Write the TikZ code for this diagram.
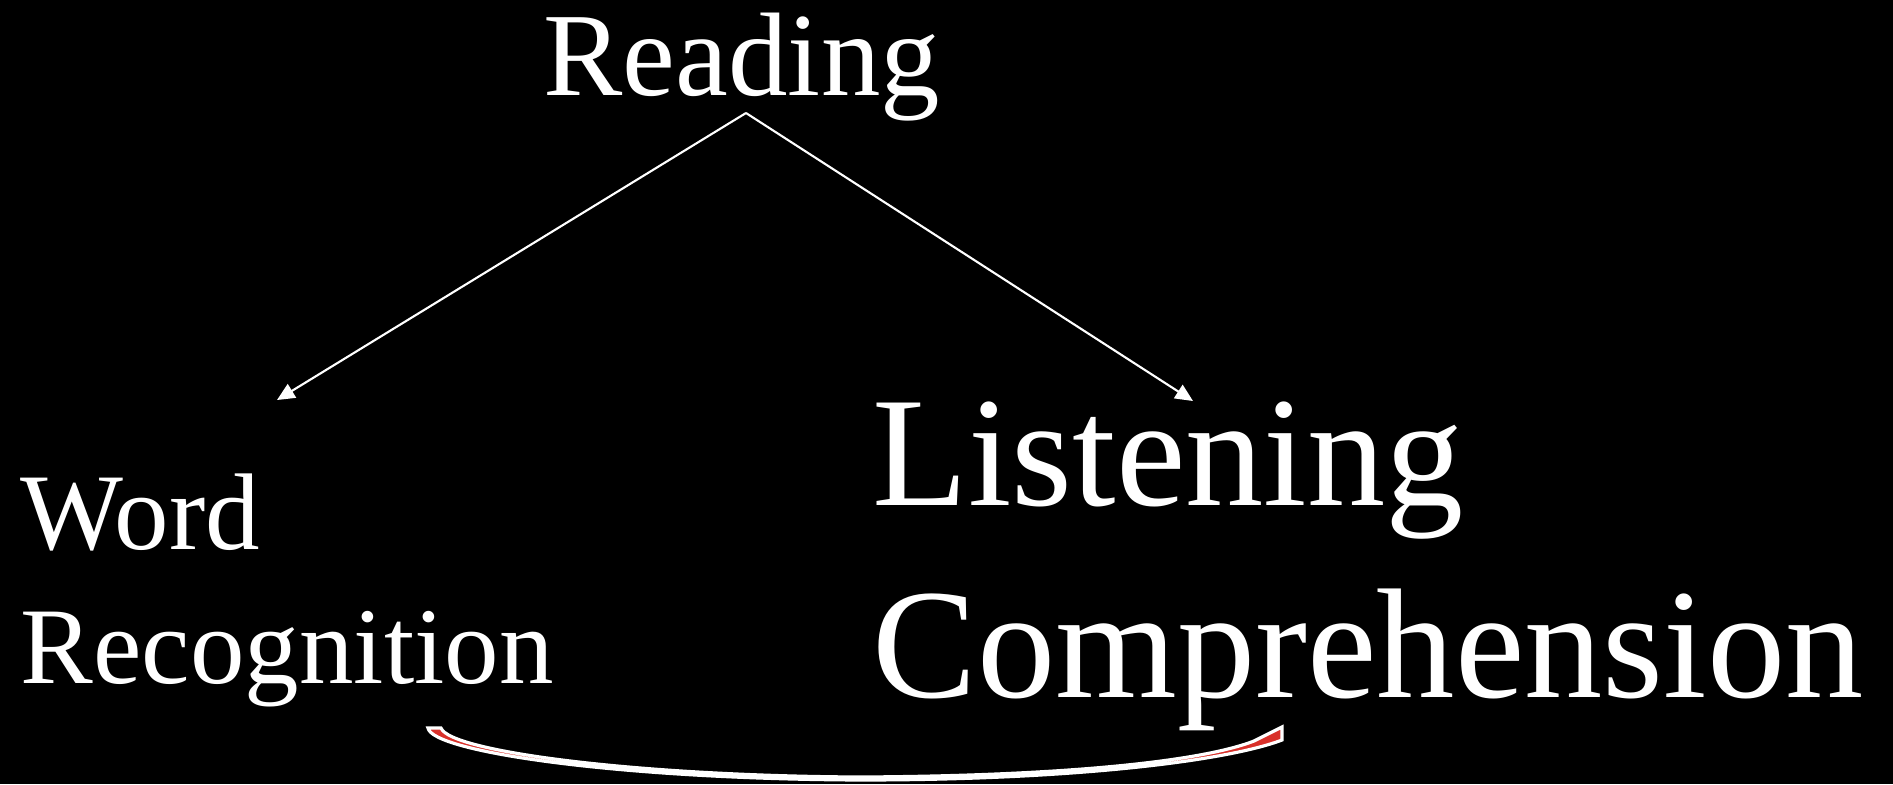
\documentclass[tikz,border=0pt]{standalone}
\usepackage{fontspec}
\setmainfont{Liberation Serif}
\usepackage{tikz}
\usetikzlibrary{arrows.meta,positioning}
\definecolor{bandred}{HTML}{D9302A}

\begin{document}
\begin{tikzpicture}[x=0.01cm,y=-0.01cm,
  label/.style={text=white,inner sep=0pt,anchor=base west,align=left},
  branch/.style={draw=white,line width=0.6pt,-{Triangle[length=5pt,width=4.5pt]}}]
\fill[black] (0,0) rectangle (1893,784);
\node[label,font=\fontsize{33.8}{40}\selectfont] (reading) at (543,95) {Reading};
\node[label,font=\fontsize{31}{38}\selectfont] (word) at (20,683) {Word\\Recognition};
\node[label,font=\fontsize{44.5}{54.4}\selectfont] (listen) at (872,697) {Listening\\Comprehension};
\coordinate (apex) at (746,113);
\coordinate (wtip) at (277,400);
\coordinate (ltip) at (1193,401);
\draw[branch] (apex)--(wtip);
\draw[branch] (apex)--(ltip);
% curved block arrow under the two labels
\filldraw[fill=bandred,draw=white,line width=0.9pt,line join=miter]
  (428,728) .. controls (432,752) and (620,779) .. (860,780)
  .. controls (1080,780) and (1230,760) .. (1282,740)
  -- (1282,727) -- (1254,741)
  .. controls (1200,762) and (1060,776) .. (860,777)
  .. controls (640,776) and (450,752) .. (441,728) -- cycle;
\end{tikzpicture}
\end{document}
